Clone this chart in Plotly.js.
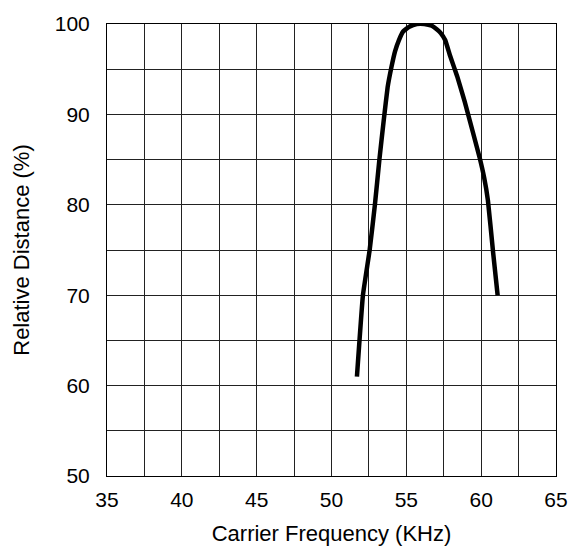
<!DOCTYPE html>
<html>
<head>
<meta charset="utf-8">
<script src="https://cdn.plot.ly/plotly-3.0.1.min.js"></script>
<style>html,body{margin:0;padding:0;background:#fff;}#chart{width:571px;height:552px;}</style>
</head>
<body>
<div id="chart"></div>
<script>
const frequency = [51.7, 52.1, 52.55, 52.9, 53.2, 53.5, 53.75, 54.0, 54.25, 54.5, 54.8, 55.2, 55.7, 56.2, 56.7, 57.05, 57.3, 57.6, 57.9, 58.4, 58.9, 59.9, 60.2, 60.45, 60.8, 61.1];
const distance  = [61, 70, 75, 80, 85, 89.5, 93, 95.2, 97.0, 98.2, 99.2, 99.7, 100, 100, 99.8, 99.4, 99.0, 98.2, 96.6, 94.2, 91.4, 85.2, 83, 80.5, 74.7, 70];
const xTicks = [35, 40, 45, 50, 55, 60, 65];
const yTicks = [50, 60, 70, 80, 90, 100];

const trace = {
  x: frequency, y: distance, type: 'scatter', mode: 'lines',
  line: {color: '#000', width: 4.5, shape: 'spline', smoothing: 0.3},
  hoverinfo: 'skip'
};
const fam = 'Liberation Sans, Arial, sans-serif';
const layout = {
  width: 571, height: 552,
  margin: {l: 107, r: 15, t: 24, b: 76},
  paper_bgcolor: '#fff', plot_bgcolor: '#fff',
  showlegend: false,
  font: {family: fam, color: '#000'},
  xaxis: {
    range: [35, 65], tickmode: 'array', tickvals: xTicks, ticktext: xTicks.map(String),
    showgrid: true, gridcolor: '#222', gridwidth: 1,
    minor: {dtick: 2.5, tick0: 35, showgrid: true, gridcolor: '#222', gridwidth: 1},
    zeroline: false, showline: true, linecolor: '#000', linewidth: 1, mirror: true,
    ticks: 'outside', ticklen: 5, tickcolor: 'rgba(0,0,0,0)',
    tickfont: {size: 21, family: fam, color: '#000'},
    title: {text: 'Carrier Frequency (KHz)', font: {size: 22, family: fam, color: '#000'}, standoff: 15}
  },
  yaxis: {
    range: [50, 100], tickmode: 'array', tickvals: yTicks, ticktext: yTicks.map(String),
    showgrid: true, gridcolor: '#222', gridwidth: 1,
    minor: {dtick: 5, tick0: 50, showgrid: true, gridcolor: '#222', gridwidth: 1},
    zeroline: false, showline: true, linecolor: '#000', linewidth: 1, mirror: true,
    ticks: 'outside', ticklen: 12, tickcolor: 'rgba(0,0,0,0)',
    tickfont: {size: 21, family: fam, color: '#000'},
    title: {text: 'Relative Distance (%)', font: {size: 22, family: fam, color: '#000'}, standoff: 19}
  }
};
Plotly.newPlot('chart', [trace], layout, {displayModeBar: false, staticPlot: true});
</script>
</body>
</html>
